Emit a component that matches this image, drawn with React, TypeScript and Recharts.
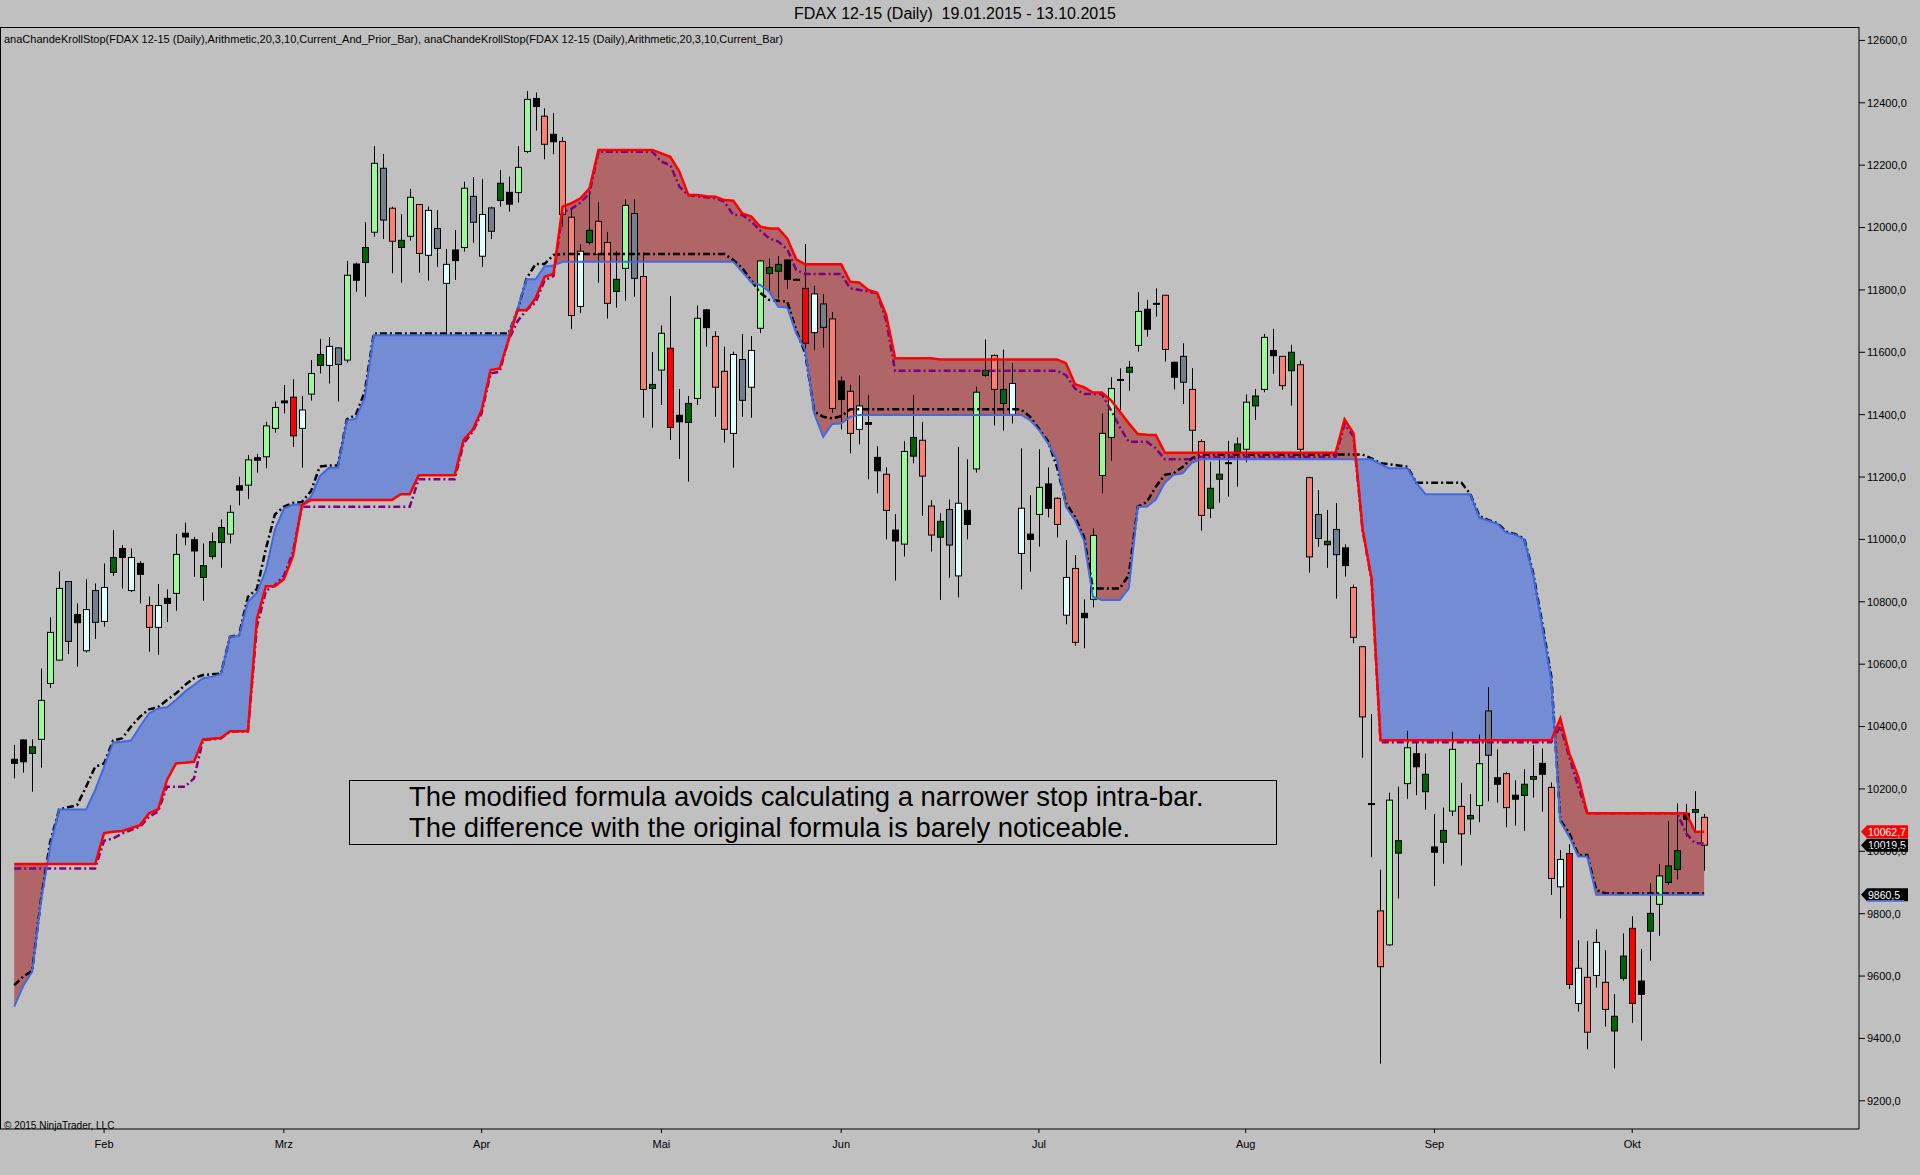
import React from 'react';
import { ComposedChart, Bar, Line, Area, XAxis, YAxis, ReferenceLine } from 'recharts';

const monthTicks = [10, 30, 52, 72, 92, 114, 137, 158, 180];
const monthLabels = ['Feb', 'Mrz', 'Apr', 'Mai', 'Jun', 'Jul', 'Aug', 'Sep', 'Okt'];
const priceTicks = [9200, 9400, 9600, 9800, 10000, 10200, 10400, 10600, 10800, 11000, 11200, 11400, 11600, 11800, 12000, 12200, 12400, 12600];

// daily bars 19.01.2015 - 13.10.2015
const opens = [
  10295, 10357, 10314, 10359, 10538, 10613, 10865, 10759, 10643, 10836,
  10737, 10894, 10971, 10836, 10923, 10788, 10718, 10811, 10827, 11020,
  10999, 10878, 10945, 10990, 11017, 11172, 11174, 11262, 11265, 11356,
  11444, 11456, 11356, 11466, 11558, 11558, 11614, 11575, 11883, 11888,
  11985, 12190, 12062, 11936, 11972, 12074, 11911, 11997, 11821, 11928,
  11936, 12100, 11908, 12063, 12087, 12113, 12112, 12244, 12414, 12357,
  12299, 12276, 12033, 11747, 11952, 12020, 11952, 11795, 11869, 12045,
  11843, 11484, 11543, 11613, 11398, 11375, 11452, 11736, 11651, 11539,
  11340, 11577, 11488, 11677, 11853, 11860, 11896, 11834, 11805, 11663,
  11755, 11707, 11508, 11475, 11353, 11375, 11263, 11209, 11030, 10985,
  11267, 11318, 11107, 11007, 11096, 10883, 11093, 11226, 11526, 11590,
  11436, 11401, 10955, 11017, 11080, 11178, 11132, 10757, 10907, 10763,
  10808, 11205, 11327, 11513, 11536, 11622, 11738, 11757, 11783, 11568,
  11587, 11481, 11314, 11100, 11193, 11246, 11281, 11289, 11428, 11481,
  11606, 11587, 11541, 11560, 11198, 11080, 10983, 11032, 10973, 10846,
  10656, 10153, 9809, 9700, 9994, 10217, 10313, 10191, 10014, 10029,
  10129, 10144, 10104, 10147, 10450, 10236, 10249, 10180, 10179, 10231,
  10282, 10205, 9886, 9993, 9512, 9596, 9602, 9580, 9424, 9593,
  9753, 9584, 9744, 9830, 9900, 9942, 10122, 10125, 10109,
];
const highs = [
  10341, 10359, 10359, 10586, 10750, 10898, 10865, 10795, 10872, 10859,
  10923, 11030, 10982, 10971, 10930, 10817, 10857, 10840, 11018, 11054,
  11008, 10987, 11022, 11064, 11110, 11201, 11271, 11274, 11377, 11442,
  11495, 11514, 11460, 11575, 11643, 11649, 11616, 11893, 11888, 12017,
  12261, 12236, 12067, 12043, 12124, 12074, 12068, 12056, 11931, 11992,
  12147, 12162, 12156, 12067, 12184, 12163, 12261, 12438, 12433, 12382,
  12367, 12290, 12058, 11946, 12120, 12081, 11986, 11924, 12091, 12091,
  11920, 11601, 11686, 11780, 11482, 11460, 11750, 11739, 11668, 11618,
  11602, 11659, 11652, 11896, 11901, 11909, 11896, 11836, 11947, 11813,
  11787, 11729, 11522, 11496, 11527, 11463, 11299, 11231, 11081, 11315,
  11463, 11377, 11126, 11084, 11128, 11297, 11257, 11490, 11641, 11593,
  11609, 11565, 11292, 11142, 11289, 11231, 11135, 10998, 10950, 10808,
  11035, 11404, 11520, 11549, 11572, 11793, 11768, 11805, 11783, 11570,
  11629, 11549, 11322, 11249, 11278, 11316, 11327, 11465, 11482, 11659,
  11675, 11587, 11624, 11573, 11201, 11158, 11094, 11117, 10984, 10855,
  10656, 10440, 9941, 10188, 10207, 10386, 10353, 10313, 10120, 10140,
  10383, 10220, 10184, 10375, 10527, 10327, 10255, 10228, 10263, 10340,
  10330, 10221, 10004, 10023, 9715, 9712, 9750, 9683, 9542, 9737,
  9792, 9687, 9897, 9959, 10097, 10154, 10152, 10193, 10120,
];
const lows = [
  10234, 10252, 10191, 10268, 10524, 10611, 10633, 10592, 10637, 10681,
  10720, 10883, 10842, 10832, 10795, 10640, 10630, 10735, 10771, 10981,
  10880, 10803, 10936, 10909, 10987, 11109, 11130, 11214, 11228, 11342,
  11404, 11297, 11230, 11445, 11532, 11500, 11442, 11567, 11794, 11778,
  11971, 11963, 11853, 11823, 11958, 11855, 11830, 11874, 11658, 11832,
  11923, 11951, 11874, 11963, 12067, 12051, 12080, 12238, 12311, 12219,
  12235, 12003, 11674, 11725, 11945, 11823, 11708, 11743, 11765, 11778,
  11390, 11358, 11431, 11319, 11258, 11185, 11431, 11618, 11393, 11310,
  11230, 11393, 11390, 11661, 11794, 11773, 11802, 11832, 11602, 11607,
  11615, 11406, 11353, 11276, 11305, 11193, 11148, 11000, 10868, 10945,
  11244, 11075, 10961, 10806, 10877, 10814, 11000, 11214, 11522, 11365,
  11349, 11372, 10840, 10897, 10977, 11071, 11006, 10728, 10659, 10651,
  10782, 11148, 11252, 11415, 11477, 11602, 11650, 11714, 11570, 11481,
  11434, 11281, 11028, 11068, 11118, 11137, 11169, 11247, 11383, 11472,
  11531, 11480, 11429, 11260, 10893, 10976, 10909, 10810, 10881, 10667,
  10300, 9981, 9319, 9697, 9849, 10168, 10180, 10133, 9888, 9960,
  10113, 9954, 10053, 10093, 10160, 10156, 10077, 10082, 10066, 10172,
  10127, 9860, 9785, 9558, 9486, 9365, 9563, 9438, 9304, 9585,
  9450, 9393, 9649, 9729, 9892, 9910, 10047, 10058, 9938,
];
const closes = [
  10282, 10287, 10335, 10484, 10702, 10843, 10673, 10733, 10775, 10734,
  10846, 10942, 10942, 10942, 10888, 10718, 10788, 10795, 10952, 11008,
  10963, 10916, 10993, 11038, 11087, 11158, 11255, 11254, 11364, 11423,
  11438, 11332, 11415, 11532, 11593, 11619, 11561, 11847, 11831, 11936,
  12206, 12024, 11956, 11959, 12097, 11917, 12055, 11933, 11882, 11894,
  12126, 12017, 12042, 11988, 12142, 12075, 12193, 12411, 12388, 12267,
  12275, 12042, 11718, 11924, 11991, 11914, 11757, 11834, 12071, 11837,
  11481, 11497, 11661, 11359, 11377, 11436, 11709, 11679, 11488, 11353,
  11593, 11446, 11606, 11893, 11872, 11882, 11834, 11834, 11629, 11787,
  11680, 11420, 11449, 11340, 11428, 11369, 11220, 11093, 10995, 11282,
  11327, 11203, 11014, 11058, 10982, 11116, 11048, 11472, 11542, 11481,
  11481, 11500, 11100, 11000, 11167, 11100, 11048, 10878, 10670, 10749,
  11013, 11340, 11484, 11510, 11552, 11731, 11674, 11757, 11609, 11520,
  11504, 11350, 11077, 11164, 11209, 11246, 11306, 11440, 11460, 11648,
  11589, 11493, 11600, 11289, 10944, 11003, 10994, 10951, 10916, 10686,
  10431, 10153, 9630, 10164, 10034, 10332, 10271, 10247, 9997, 10067,
  10327, 10056, 10115, 10281, 10308, 10215, 10140, 10167, 10215, 10240,
  10247, 9913, 9974, 9573, 9625, 9420, 9708, 9493, 9471, 9664,
  9512, 9541, 9801, 9921, 9953, 10002, 10102, 10134, 10019.5,
];
// body colour per bar: G palegreen, D darkgreen, S salmon, R red, K black, W lightcyan, Y slategray
const candleCodes = [
  'KKDGGGYKWY', 'WDKWKSWKGK', 'KDDDGKGKGG', 'KRWGDWYGKD', 'GYSDGSWYWK',
  'GYWYDKGGKS', 'KSSWDSSDGY', 'SDGRKDGKSS', 'WYWGDDKKRW', 'YSKSWKKSKG',
  'DSSDYWKGDS', 'DWWKGKSWSK', 'GGGKDGKKSK', 'YSSDDKDGDG', 'KSDSSYDYKS',
  'SKSGDGKDKD', 'GSDGYKSKDD', 'KSWRWSWSDD', 'RKDGDDKDS',
].join('');

// anaChandeKrollStop, Current_And_Prior_Bar
const stopBlue = [
  9502, 9568, 9614, 9844, 10015, 10134, 10134, 10134, 10134, 10196,
  10271, 10349, 10351, 10355, 10400, 10442, 10458, 10462, 10485, 10512,
  10533, 10555, 10560, 10568, 10688, 10690, 10800, 10829, 10902, 11031,
  11099, 11111, 11111, 11136, 11203, 11230, 11230, 11381, 11387, 11455,
  11655, 11655, 11655, 11655, 11655, 11655, 11655, 11655, 11655, 11655,
  11655, 11655, 11655, 11655, 11655, 11655, 11740, 11834, 11834, 11875,
  11878, 11890, 11890, 11890, 11890, 11890, 11890, 11890, 11890, 11890,
  11890, 11890, 11890, 11890, 11890, 11890, 11890, 11890, 11890, 11890,
  11890, 11858, 11824, 11816, 11794, 11746, 11744, 11661, 11607, 11404,
  11329, 11370, 11372, 11393, 11399, 11399, 11399, 11399, 11399, 11399,
  11399, 11399, 11399, 11399, 11399, 11399, 11399, 11399, 11399, 11399,
  11399, 11399, 11399, 11383, 11351, 11308, 11255, 11105, 11062, 10998,
  10816, 10806, 10806, 10806, 10843, 11105, 11105, 11128, 11182, 11207,
  11212, 11246, 11257, 11257, 11257, 11257, 11257, 11257, 11257, 11257,
  11257, 11257, 11257, 11257, 11257, 11257, 11257, 11257, 11257, 11257,
  11257, 11257, 11241, 11228, 11228, 11228, 11181, 11145, 11145, 11145,
  11145, 11145, 11145, 11069, 11060, 11050, 11021, 11015, 11000, 10884,
  10720, 10549, 10095, 10047, 9983, 9983, 9860.5, 9860.5, 9860.5, 9860.5,
  9860.5, 9860.5, 9860.5, 9860.5, 9860.5, 9860.5, 9860.5, 9860.5, 9860.5,
];
const stopRed = [
  9959, 9959, 9959, 9959, 9959, 9959, 9959, 9959, 9959, 9959,
  10058, 10063, 10065, 10074, 10084, 10122, 10134, 10229, 10282, 10284,
  10287, 10359, 10361, 10363, 10385, 10385, 10385, 10745, 10850, 10850,
  10872, 10945, 11110, 11126, 11126, 11126, 11126, 11126, 11126, 11126,
  11126, 11126, 11126, 11145, 11145, 11206, 11206, 11206, 11206, 11206,
  11319, 11351, 11415, 11543, 11548, 11640, 11735, 11735, 11773, 11842,
  11852, 12067, 12078, 12094, 12126, 12249, 12249, 12249, 12249, 12249,
  12249, 12249, 12238, 12227, 12179, 12104, 12104, 12100, 12099, 12088,
  12086, 12045, 12035, 12003, 11997, 11997, 11965, 11898, 11882, 11882,
  11882, 11882, 11882, 11826, 11824, 11800, 11791, 11720, 11581, 11581,
  11581, 11581, 11581, 11577, 11577, 11577, 11577, 11577, 11577, 11577,
  11577, 11577, 11577, 11577, 11577, 11577, 11577, 11565, 11498, 11488,
  11471, 11471, 11447, 11410, 11372, 11338, 11336, 11335, 11278, 11278,
  11278, 11278, 11278, 11278, 11278, 11278, 11278, 11278, 11278, 11278,
  11278, 11278, 11278, 11278, 11278, 11278, 11278, 11278, 11385, 11340,
  11034, 10874, 10356, 10356, 10356, 10356, 10356, 10356, 10356, 10356,
  10356, 10356, 10356, 10356, 10356, 10356, 10356, 10356, 10356, 10356,
  10356, 10356, 10426, 10314, 10239, 10122, 10122, 10122, 10122, 10122,
  10122, 10122, 10122, 10122, 10122, 10122, 10122, 10062.7, 10062.7,
];
// anaChandeKrollStop, Current_Bar
const stopBlack = [
  9571, 9598, 9617, 9850, 10030, 10134, 10141, 10148, 10207, 10271,
  10282, 10355, 10362, 10400, 10432, 10455, 10462, 10485, 10506, 10533,
  10555, 10565, 10568, 10570, 10688, 10693, 10816, 10841, 10970, 11080,
  11105, 11117, 11120, 11154, 11234, 11237, 11237, 11385, 11399, 11473,
  11660, 11660, 11660, 11660, 11660, 11660, 11660, 11660, 11660, 11660,
  11660, 11660, 11660, 11660, 11660, 11660, 11736, 11837, 11883, 11883,
  11912, 11915, 11915, 11915, 11915, 11915, 11915, 11915, 11915, 11915,
  11915, 11915, 11915, 11915, 11915, 11915, 11915, 11915, 11915, 11915,
  11896, 11870, 11830, 11790, 11768, 11765, 11762, 11670, 11597, 11410,
  11393, 11388, 11395, 11417, 11417, 11417, 11417, 11417, 11417, 11417,
  11417, 11417, 11417, 11417, 11417, 11417, 11417, 11417, 11417, 11417,
  11417, 11417, 11417, 11394, 11355, 11315, 11233, 11116, 11073, 11009,
  10843, 10843, 10843, 10843, 10886, 11105, 11120, 11169, 11207, 11212,
  11233, 11260, 11272, 11272, 11272, 11272, 11272, 11272, 11272, 11272,
  11272, 11272, 11272, 11272, 11272, 11272, 11272, 11272, 11272, 11272,
  11272, 11260, 11244, 11241, 11237, 11233, 11182, 11182, 11182, 11182,
  11182, 11182, 11145, 11075, 11062, 11052, 11025, 11017, 11002, 10890,
  10730, 10560, 10100, 10058, 9988, 9988, 9876, 9865, 9865, 9865,
  9865, 9865, 9865, 9865, 9865, 9865, 9865, 9865, 9865,
];
const stopPurple = [
  9945, 9945, 9945, 9945, 9945, 9945, 9945, 9945, 9945, 9945,
  10034, 10041, 10057, 10068, 10079, 10111, 10127, 10207, 10207, 10207,
  10234, 10357, 10359, 10362, 10384, 10384, 10384, 10720, 10835, 10853,
  10884, 10958, 11105, 11105, 11105, 11105, 11105, 11105, 11105, 11105,
  11105, 11105, 11105, 11105, 11105, 11193, 11193, 11193, 11193, 11193,
  11308, 11345, 11404, 11532, 11538, 11640, 11700, 11736, 11760, 11830,
  11845, 12050, 12060, 12080, 12110, 12243, 12243, 12243, 12243, 12243,
  12243, 12243, 12211, 12200, 12131, 12104, 12100, 12097, 12094, 12083,
  12040, 12040, 12020, 11990, 11965, 11955, 11930, 11864, 11851, 11851,
  11851, 11851, 11851, 11805, 11800, 11795, 11789, 11703, 11541, 11541,
  11541, 11541, 11541, 11541, 11541, 11541, 11541, 11541, 11541, 11541,
  11541, 11541, 11541, 11541, 11541, 11541, 11541, 11527, 11484, 11466,
  11466, 11466, 11415, 11360, 11313, 11313, 11313, 11292, 11257, 11257,
  11257, 11257, 11265, 11265, 11265, 11265, 11265, 11265, 11265, 11265,
  11265, 11265, 11265, 11265, 11265, 11265, 11265, 11265, 11370, 11330,
  11030, 10870, 10350, 10350, 10350, 10350, 10350, 10350, 10350, 10350,
  10350, 10350, 10350, 10350, 10350, 10350, 10350, 10350, 10350, 10350,
  10350, 10350, 10400, 10303, 10207, 10122, 10122, 10122, 10122, 10122,
  10122, 10122, 10122, 10122, 10122, 10122, 10058, 10026, 10026,
];

const bodyColors: Record<string, string> = {
  G: '#98FB98',
  D: '#006400',
  S: '#FA8072',
  R: '#FF0000',
  K: '#000000',
  W: '#E0FFFF',
  Y: '#708090',
};

const FONT = "'Liberation Sans', Arial, sans-serif";

// chart rows; extra rows where the two stop lines cross so both fills meet exactly
const rows: any[] = [];
for (let i = 0; i < opens.length; i++) {
  const d = stopBlue[i] - stopRed[i];
  rows.push({
    x: i,
    open: opens[i],
    high: highs[i],
    low: lows[i],
    close: closes[i],
    code: candleCodes[i],
    blue: stopBlue[i],
    red: stopRed[i],
    black: stopBlack[i],
    purple: stopPurple[i],
    blueBand: d >= 0 ? [stopRed[i], stopBlue[i]] : null,
    redBand: d < 0 ? [stopBlue[i], stopRed[i]] : null,
  });
  if (i < opens.length - 1) {
    const dn = stopBlue[i + 1] - stopRed[i + 1];
    if (d >= 0 !== dn >= 0) {
      const t = d / (d - dn);
      const v = stopBlue[i] + t * (stopBlue[i + 1] - stopBlue[i]);
      rows.push({ x: i + t, blueBand: [v, v], redBand: [v, v] });
    }
  }
}

const fmt = (v: number) => v.toFixed(1).replace('.', ',');

const Candle = (props: any) => {
  const { x, y, width, height, payload } = props;
  if (!payload || payload.high == null || isNaN(y) || isNaN(height)) return null;
  const c = Math.round(x + width / 2);
  const top = Math.min(y, y + height);
  const bot = Math.max(y, y + height);
  const range = payload.high - payload.low;
  const k = range > 0 ? (bot - top) / range : 0;
  const yO = top + (payload.high - payload.open) * k;
  const yC = top + (payload.high - payload.close) * k;
  const bTop = Math.min(yO, yC);
  const bH = Math.max(Math.abs(yO - yC), 1);
  return (
    <g>
      <line x1={c + 0.5} x2={c + 0.5} y1={top} y2={Math.max(bot, top + 1)} stroke="#000" strokeWidth={1} />
      <rect
        x={c - 2.5}
        y={bTop}
        width={6}
        height={bH}
        fill={bodyColors[payload.code]}
        stroke="#000"
        strokeWidth={1}
      />
    </g>
  );
};

// last-value marker on the price axis
const PriceTag = (props: any) => {
  const { viewBox, text, bg, underline } = props;
  if (!viewBox) return null;
  const x = viewBox.x + viewBox.width + 2;
  const y = viewBox.y;
  const w = 47;
  return (
    <g>
      <path d={`M${x} ${y} L${x + 6} ${y - 6.5} H${x + w} V${y + 6.5} H${x + 6} Z`} fill={bg} />
      {underline && <line x1={x + 6} x2={x + w - 4} y1={y + 6} y2={y + 6} stroke={underline} strokeWidth={1.5} />}
      <text x={x + 7} y={y} dy="0.36em" fill="#fff" fontSize={10.5} fontFamily={FONT}>
        {text}
      </text>
    </g>
  );
};

const App: React.FC = () => {
  return (
    <div style={{ position: 'relative', width: 1920, height: 1175, background: '#C0C0C0', fontFamily: FONT, overflow: 'hidden' }}>
      <style>{'body{margin:0;background:#C0C0C0}'}</style>
      <div
        style={{
          position: 'absolute', left: 0, top: 0, width: 1910, height: 27, lineHeight: '27px',
          textAlign: 'center', fontSize: 16, color: '#000', whiteSpace: 'pre',
        }}
      >
        {'FDAX 12-15 (Daily)  19.01.2015 - 13.10.2015'}
      </div>
      <ComposedChart
        width={1920}
        height={1175}
        data={rows}
        margin={{ top: 27, right: 0, bottom: 0, left: 0 }}
      >
        <XAxis
          type="number"
          dataKey="x"
          domain={[-1.58, 205.23]}
          allowDataOverflow
          ticks={monthTicks}
          interval={0}
          tickFormatter={(v: number) => monthLabels[monthTicks.indexOf(v)] ?? ''}
          height={46}
          tickSize={4}
          tickMargin={7}
          axisLine={{ stroke: '#000' }}
          tickLine={{ stroke: '#000' }}
          tick={{ fill: '#000', fontSize: 11, fontFamily: FONT }}
        />
        <YAxis
          orientation="right"
          type="number"
          domain={[9109.6, 12643]}
          allowDataOverflow
          ticks={priceTicks}
          interval={0}
          width={61}
          tickSize={6}
          tickMargin={2}
          tickFormatter={fmt}
          axisLine={{ stroke: '#000' }}
          tickLine={{ stroke: '#000' }}
          tick={{ fill: '#000', fontSize: 11, fontFamily: FONT, textAnchor: 'start' }}
        />
        <Line
          dataKey="black"
          stroke="#000000"
          strokeWidth={2.5}
          strokeDasharray="7 3 2 3"
          dot={false}
          activeDot={false}
          connectNulls
          isAnimationActive={false}
        />
        <Line
          dataKey="purple"
          stroke="#800080"
          strokeWidth={2.5}
          strokeDasharray="7 3 2 3"
          dot={false}
          activeDot={false}
          connectNulls
          isAnimationActive={false}
        />
        <Area
          dataKey="blueBand"
          stroke="none"
          fill="#4169E1"
          fillOpacity={0.6}
          dot={false}
          activeDot={false}
          isAnimationActive={false}
        />
        <Area
          dataKey="redBand"
          stroke="none"
          fill="#A52A2A"
          fillOpacity={0.6}
          dot={false}
          activeDot={false}
          isAnimationActive={false}
        />
        <Line
          dataKey="blue"
          stroke="#4169E1"
          strokeWidth={2}
          dot={false}
          activeDot={false}
          connectNulls
          isAnimationActive={false}
        />
        <Line
          dataKey="red"
          stroke="#FF0000"
          strokeWidth={2.5}
          dot={false}
          activeDot={false}
          connectNulls
          isAnimationActive={false}
        />
        <Bar
          dataKey={(r: any) => (r.high == null ? null : [r.low, r.high])}
          barSize={7}
          shape={<Candle />}
          isAnimationActive={false}
        />
        <ReferenceLine
          y={stopRed[stopRed.length - 1]}
          stroke="none"
          label={<PriceTag text={fmt(stopRed[stopRed.length - 1])} bg="#FF0000" />}
        />
        <ReferenceLine
          y={closes[closes.length - 1]}
          stroke="none"
          label={<PriceTag text={fmt(closes[closes.length - 1])} bg="#000000" />}
        />
        <ReferenceLine
          y={stopBlue[stopBlue.length - 1]}
          stroke="none"
          label={<PriceTag text={fmt(stopBlue[stopBlue.length - 1])} bg="#000000" underline="#4169E1" />}
        />
      </ComposedChart>
      <div
        style={{
          position: 'absolute', left: 0, top: 27, width: 1859, height: 1102,
          borderLeft: '1px solid #000', borderTop: '1px solid #000', boxSizing: 'border-box', pointerEvents: 'none',
        }}
      />
      <div style={{ position: 'absolute', left: 4, top: 33, fontSize: 11, color: '#000', whiteSpace: 'nowrap' }}>
        anaChandeKrollStop(FDAX 12-15 (Daily),Arithmetic,20,3,10,Current_And_Prior_Bar), anaChandeKrollStop(FDAX 12-15 (Daily),Arithmetic,20,3,10,Current_Bar)
      </div>
      <div style={{ position: 'absolute', left: 4, top: 1120, fontSize: 10, color: '#000', whiteSpace: 'nowrap' }}>
        © 2015 NinjaTrader, LLC
      </div>
      <div
        style={{
          position: 'absolute', left: 349, top: 780, width: 928, height: 65, border: '1px solid #000',
          boxSizing: 'border-box', paddingLeft: 59, fontSize: 27.4, lineHeight: '31px', color: '#000', whiteSpace: 'nowrap',
        }}
      >
        <div>The modified formula avoids calculating a narrower stop intra-bar.</div>
        <div>The difference with the original formula is barely noticeable.</div>
      </div>
    </div>
  );
};

export default App;
